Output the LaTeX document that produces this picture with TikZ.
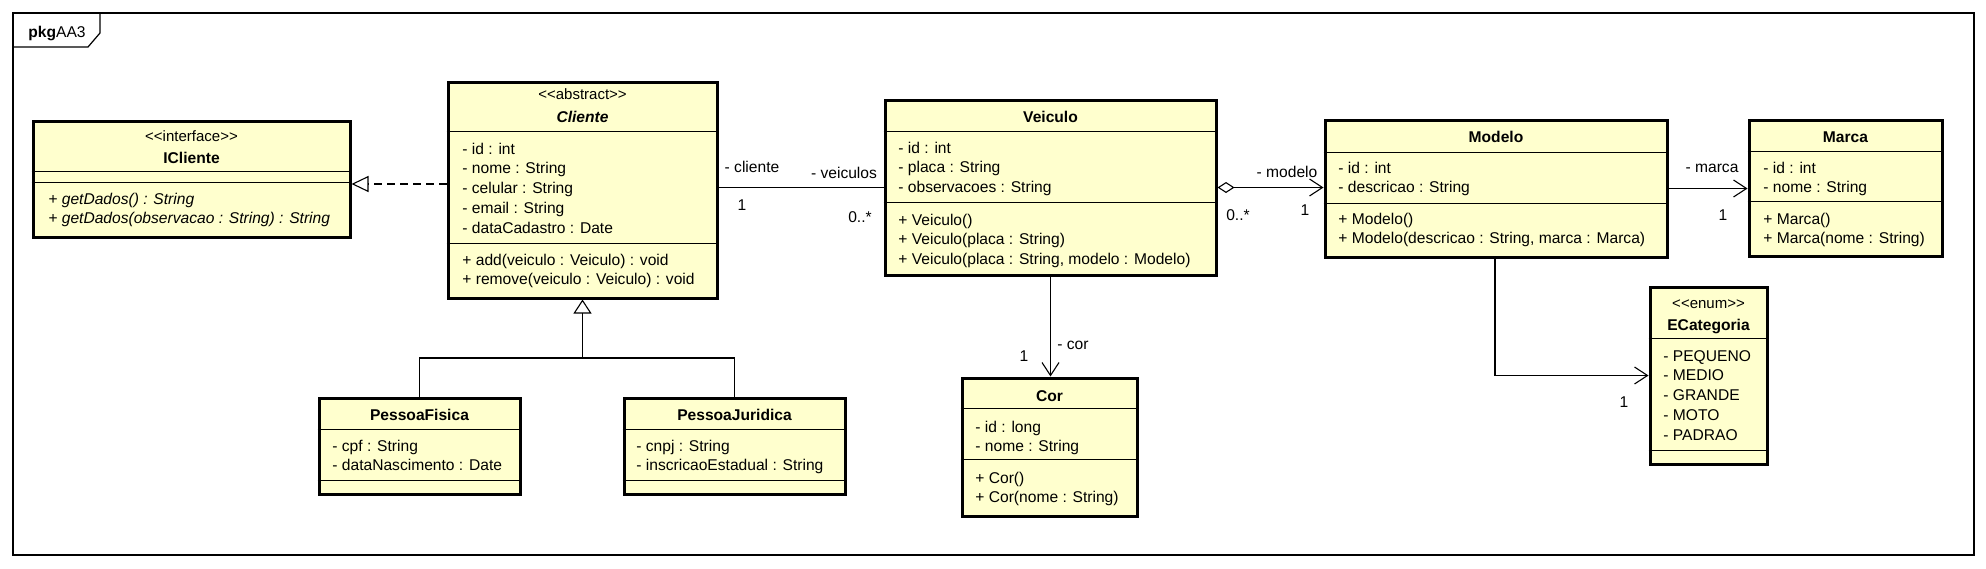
\documentclass[tikz,border=0pt]{standalone}
\usepackage{fontspec}
\setmainfont{Liberation Sans}
\usetikzlibrary{arrows.meta,fit}
\definecolor{clsfill}{RGB}{255,255,206}
\tikzset{
  cls/.style={draw, line width=1.5pt, fill=clsfill, inner sep=0pt},
  sepline/.style={line width=0.5pt},
  txt/.style={inner sep=0pt, font=\fontsize{7.8}{10}\selectfont},
  stereo/.style={inner sep=0pt, font=\fontsize{7.5}{9}\selectfont, anchor=base},
  ttl/.style={inner sep=0pt, font=\fontsize{7.8}{10}\selectfont\bfseries, anchor=base},
  lbl/.style={txt, anchor=base},
  conn/.style={line width=0.55pt},
  nav/.style={conn, -{Straight Barb[length=6.5pt,width=8.5pt,line width=0.55pt]}},
}
\newcommand\umlrows[5]{%
  \foreach \rowtext [count=\ri] in {#5} {%
    \node[txt,#4,anchor=base west] (#1-\ri) at (#2,{#3+19.8*(\ri-1)}) {\rowtext};}}
\newcommand\umlsep[2]{\draw[sepline] (#1.west |- 0,#2) -- (#1.east |- 0,#2);}
\newcommand\stlt{<\kern0pt<}
\newcommand\stgt{>\kern0pt>}
\begin{document}
\begin{tikzpicture}[x=0.5pt,y=-0.5pt]
\useasboundingbox (0,0) rectangle (1986,568);
% frame
\node[draw, line width=0.6pt, fit={(13,13) (1974,555)}, inner sep=0pt] (frame) {};
\draw[line width=0.6pt] (13,47) -- (88,47) -- (100,33) -- (100,13);
\node[txt, anchor=base west] (pkg) at (28,37) {\textbf{pkg}AA3};

% helper coordinates
\coordinate (rl) at (448,184);
\coordinate (gj) at (582.5,358);
\coordinate (mk) at (1495,257);

% class boxes
\node[cls, fit={(33,121) (350,237)}] (icl) {};
\node[cls, fit={(448,82) (717,298)}] (cli) {};
\node[cls, fit={(885,100) (1216,275)}] (vei) {};
\node[cls, fit={(1325,120) (1667,257)}] (mod) {};
\node[cls, fit={(1749,120) (1942,256)}] (mar) {};
\node[cls, fit={(319,398) (520,494)}] (pf) {};
\node[cls, fit={(624,398) (845,494)}] (pj) {};
\node[cls, fit={(962,378) (1137,516)}] (cor) {};
\node[cls, fit={(1650,287) (1767,464)}] (ecat) {};

% connectors
\draw[conn, dash pattern=on 4pt off 2.5pt, -{Triangle[open,length=8.5pt,width=8pt,fill=white]}] (rl -| cli.west) -- (rl -| icl.east);
\draw[conn] (vei.west -| cli.east) -- (vei.west);
\draw[conn, {Diamond[open,length=8.5pt,width=5.5pt,fill=white]}-{Straight Barb[length=6.5pt,width=8.5pt,line width=0.55pt]}] (vei.east) -- (vei.east -| mod.west);
\draw[nav] (mod.east) -- (mod.east -| mar.west);
\draw[nav] (vei.south) -- (vei.south |- cor.north);
\draw[nav] (mk |- mod.south) |- (ecat.west);
\draw[conn] (pf.north) |- (gj) -| (pj.north);
\draw[conn, -{Triangle[open,length=7pt,width=9pt,fill=white]}] (gj) -- (gj |- cli.south);

% separators
\umlsep{icl}{171} \umlsep{icl}{182}
\umlsep{cli}{131} \umlsep{cli}{243}
\umlsep{vei}{131} \umlsep{vei}{202}
\umlsep{mod}{152} \umlsep{mod}{203}
\umlsep{mar}{151} \umlsep{mar}{201}
\umlsep{pf}{429} \umlsep{pf}{480}
\umlsep{pj}{429} \umlsep{pj}{480}
\umlsep{cor}{408} \umlsep{cor}{459}
\umlsep{ecat}{338} \umlsep{ecat}{450}

% IClient
\node[stereo] (icl-s) at (191.5,141) {\stlt interface\stgt};
\node[ttl] (icl-t) at (191.5,163) {ICliente};
\umlrows{iclm}{48}{204}{font=\fontsize{7.8}{10}\selectfont\itshape}{{+ getDados() : String},{+ getDados(observacao : String) : String}}

% Cliente
\node[stereo] (cli-s) at (582.5,99) {\stlt abstract\stgt};
\node[ttl, font=\fontsize{7.8}{10}\selectfont\bfseries\itshape] (cli-t) at (582.5,122) {Cliente};
\umlrows{clia}{462}{154}{}{{- id : int},{- nome : String},{- celular : String},{- email : String},{- dataCadastro : Date}}
\umlrows{clim}{462}{265}{}{{+ add(veiculo : Veiculo) : void},{+ remove(veiculo : Veiculo) : void}}

% Veiculo
\node[ttl] (vei-t) at (1050.5,122) {Veiculo};
\umlrows{veia}{898}{153}{}{{- id : int},{- placa : String},{- observacoes : String}}
\umlrows{veim}{898}{225}{}{{+ Veiculo()},{+ Veiculo(placa : String)},{+ Veiculo(placa : String, modelo : Modelo)}}

% Modelo
\node[ttl] (mod-t) at (1496,142) {Modelo};
\umlrows{moda}{1338}{173}{}{{- id : int},{- descricao : String}}
\umlrows{modm}{1338}{224}{}{{+ Modelo()},{+ Modelo(descricao : String, marca : Marca)}}

% Marca
\node[ttl] (mar-t) at (1845.5,142) {Marca};
\umlrows{mara}{1763}{173}{}{{- id : int},{- nome : String}}
\umlrows{marm}{1763}{224}{}{{+ Marca()},{+ Marca(nome : String)}}

% PessoaFisica
\node[ttl] (pf-t) at (419.5,420) {PessoaFisica};
\umlrows{pfa}{332}{451}{}{{- cpf : String},{- dataNascimento : Date}}

% PessoaJuridica
\node[ttl] (pj-t) at (734.5,420) {PessoaJuridica};
\umlrows{pja}{636}{451}{}{{- cnpj : String},{- inscricaoEstadual : String}}

% Cor
\node[ttl] (cor-t) at (1049.5,401) {Cor};
\umlrows{cora}{975}{432}{}{{- id : long},{- nome : String}}
\umlrows{corm}{975}{483}{}{{+ Cor()},{+ Cor(nome : String)}}

% ECategoria
\node[stereo] (ecat-s) at (1708.5,308) {\stlt enum\stgt};
\node[ttl] (ecat-t) at (1708.5,330) {ECategoria};
\umlrows{ecata}{1663}{361}{}{{- PEQUENO},{- MEDIO},{- GRANDE},{- MOTO},{- PADRAO}}

% connector labels
\node[lbl] (l-cli) at (752,172) {- cliente};
\node[lbl] (l-cli1) at (742,210) {1};
\node[lbl] (l-vei) at (844,178) {- veiculos};
\node[lbl] (l-vei0) at (860,222) {0..*};
\node[lbl] (l-modn) at (1287,177) {- modelo};
\node[lbl] (l-mod1) at (1305,215) {1};
\node[lbl] (l-agg0) at (1238,220) {0..*};
\node[lbl] (l-mar) at (1712,172) {- marca};
\node[lbl] (l-mar1) at (1723,220) {1};
\node[lbl] (l-cor) at (1073,349) {- cor};
\node[lbl] (l-cor1) at (1024,361) {1};
\node[lbl] (l-cat1) at (1624,407) {1};
\end{tikzpicture}
\end{document}
